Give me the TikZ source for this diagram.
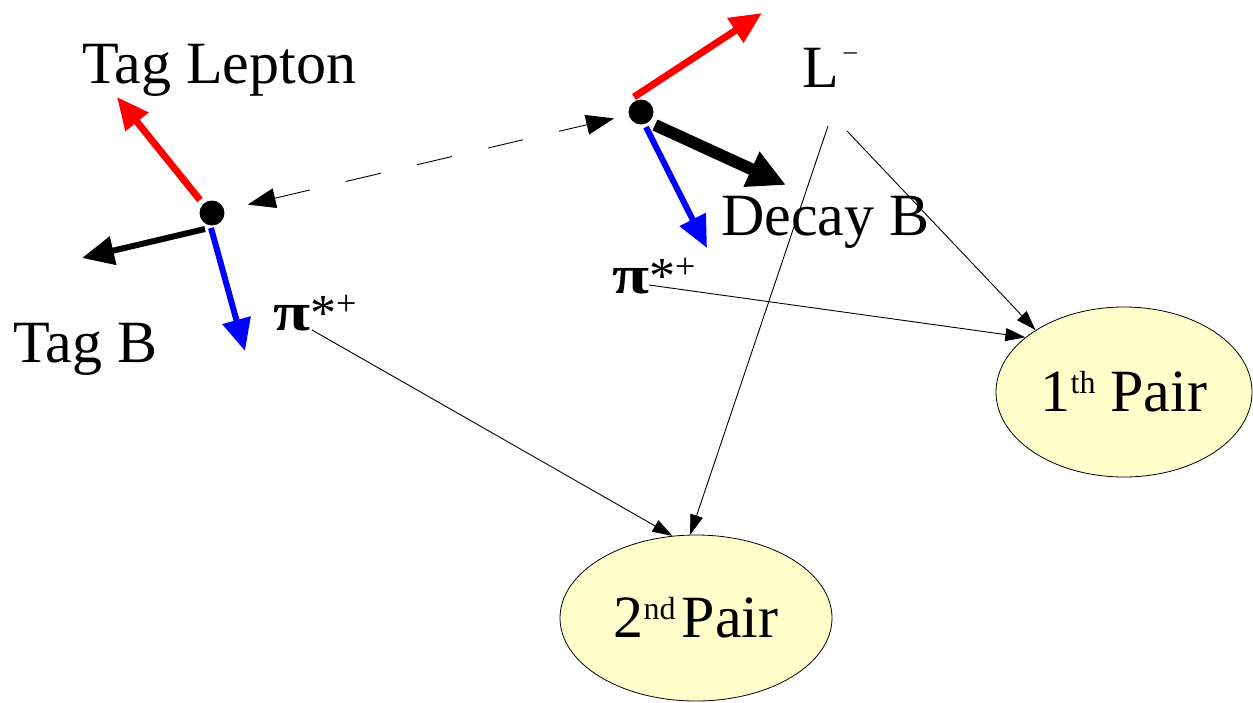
\documentclass[tikz,border=0pt]{standalone}
\usepackage{fontspec}
\setmainfont{Liberation Serif}
\usetikzlibrary{arrows.meta,shapes.geometric}
\definecolor{pairfill}{RGB}{255,255,204}
\newcommand{\pistar}{\fontsize{52}{60}\selectfont\scalebox{1.3}[1.05]{\textbf{π}}*\raisebox{15pt}{\fontsize{36}{40}\selectfont +}}
\begin{document}
\begin{tikzpicture}[x=1pt,y=-1pt,
  dot/.style={circle,fill=black,inner sep=0pt,minimum size=25pt},
  lbl/.style={anchor=base west,inner sep=0pt,font=\fontsize{60}{72}\selectfont},
  bigarr/.style={line width=7pt,-{Triangle[length=32pt,width=28pt]}},
  hugearr/.style={line width=12pt,-{Triangle[length=38pt,width=36pt]}},
  thinarr/.style={line width=0.9pt,-{Triangle[length=20pt,width=13pt]}},
  dasharr/.style={line width=0.9pt,dash pattern=on 36pt off 37pt,
    {Triangle[length=28pt,width=20pt]}-{Triangle[length=28pt,width=20pt]}},
  pair/.style={ellipse,draw,line width=0.8pt,fill=pairfill,inner sep=0pt,
    font=\fontsize{60}{72}\selectfont}]
\useasboundingbox (0,0) rectangle (1253,702);

% ellipses
\node[pair,minimum width=256pt,minimum height=170pt] (e1) at (1124,392)
  {1\raisebox{18pt}{\fontsize{32}{38}\selectfont th} Pair};
\node[pair,minimum width=272pt,minimum height=166pt] (e2) at (696,618)
  {2\raisebox{18pt}{\fontsize{32}{38}\selectfont nd}\hspace{6pt}Pair};

% vertices
\node[dot] (v1) at (212,213) {};
\node[dot] (v2) at (641,112) {};

% labels
\node[lbl] (tl) at (82,83) {Tag Lepton};
\node[lbl] (tb) at (13,362) {Tag B};
\node[lbl] (db) at (721,235) {Decay B};
\node[lbl] (ll) at (802,87) {L\hspace{5pt}\raisebox{28pt}{\fontsize{26}{28}\selectfont –}};
\node[lbl] (pl) at (273,330) {\pistar};
\node[lbl] (pr) at (612,293) {\pistar};

% thick arrow coordinates
\coordinate (r1s) at (200,200); \coordinate (r1e) at (117,97);
\coordinate (k1s) at (205,229); \coordinate (k1e) at (82,258);
\coordinate (b1s) at (211,228); \coordinate (b1e) at (245,351);
\coordinate (r2s) at (634,97);  \coordinate (r2e) at (762,13);
\coordinate (k2s) at (655,125); \coordinate (k2e) at (786,185);
\coordinate (b2s) at (646,127); \coordinate (b2e) at (707,248);

\draw[bigarr,red] (r1s) -- (r1e);
\draw[bigarr,line width=6pt] (k1s) -- (k1e);
\draw[bigarr,blue,line width=6pt] (b1s) -- (b1e);
\draw[bigarr,red] (r2s) -- (r2e);
\draw[hugearr] (k2s) -- (k2e);
\draw[bigarr,blue,line width=6pt] (b2s) -- (b2e);

% dashed link
\draw[dasharr,shorten <=24pt,shorten >=15pt] (v1) -- (v2);

% thin connectors
\coordinate (pls) at (312,330);
\coordinate (prs) at (649,285);
\coordinate (la) at (828,126);
\coordinate (lb) at (847,131);
\draw[thinarr] (pls) -- (e2.106);
\draw[thinarr] (la) -- (e2.94);
\draw[thinarr] (prs) -- (e1.151);
\draw[thinarr] (lb) -- (e1.145);
\end{tikzpicture}
\end{document}
